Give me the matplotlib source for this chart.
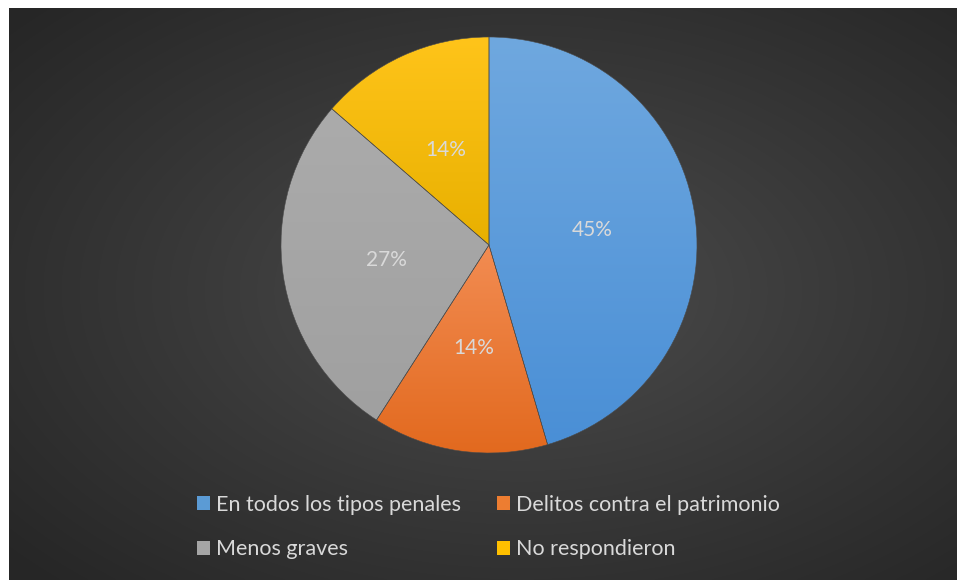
import numpy as np
import matplotlib
matplotlib.use("Agg")
import matplotlib.pyplot as plt
from matplotlib.patches import Patch
from matplotlib.colors import LinearSegmentedColormap, to_rgb

plt.rcParams['font.family'] = ['Lato', 'DejaVu Sans']

# Survey responses (counts per answer)
categories = ["En todos los tipos penales", "Delitos contra el patrimonio",
              "Menos graves", "No respondieron"]
counts = [10, 3, 6, 3]

# top / bottom shades of each slice's vertical gradient
top_colors = ["#6FA8DF", "#F28C52", "#ABABAB", "#FFC41A"]
bottom_colors = ["#4A8FD6", "#E2691E", "#A0A0A0", "#E8B000"]
legend_colors = ["#5B9BD5", "#ED7D31", "#A5A5A5", "#FFC000"]
text_color = "#D9D9D9"

W, H = 958, 580
fig = plt.figure(figsize=(W / 100, H / 100), dpi=100, facecolor="white")

# dark panel with a radial gradient
bg = fig.add_axes([9 / W, 0, (957 - 9) / W, (H - 8) / H])
bg.set_axis_off()
ny, nx = 286, 474
yy, xx = np.mgrid[0:ny, 0:nx]
cx, cy = (520 - 9) / 2, (290 - 8) / 2
d = np.hypot((xx - cx) / nx, (yy - cy) / ny) / 0.72
d = np.clip(d, 0, 1)
c0 = np.array(to_rgb("#4E4E4E"))
c1 = np.array(to_rgb("#262626"))
img = c0 + (c1 - c0) * d[..., None] ** 0.9
bg.imshow(img, aspect="auto", extent=[0, 1, 0, 1], origin="upper", interpolation="bilinear")
bg.set_xlim(0, 1)
bg.set_ylim(0, 1)

# pie
r_px = 208
pcx, pcy = 489, H - 245
ax = fig.add_axes([(pcx - r_px) / W, (pcy - r_px) / H, 2 * r_px / W, 2 * r_px / H])
ax.set_axis_off()
wedges, texts, autotexts = ax.pie(
    counts, startangle=90, counterclock=False, colors=legend_colors,
    autopct=lambda p: f"{p:.0f}%", pctdistance=0.5,
    wedgeprops=dict(edgecolor="#4a4a4a", linewidth=0.4),
    textprops=dict(color=text_color, fontsize=15),
)
ax.set_xlim(-1, 1)
ax.set_ylim(-1, 1)
ax.set_aspect("equal")

for w, ct, cb in zip(wedges, top_colors, bottom_colors):
    verts = w.get_path().vertices
    x0, x1 = verts[:, 0].min(), verts[:, 0].max()
    y0, y1 = verts[:, 1].min(), verts[:, 1].max()
    cmap = LinearSegmentedColormap.from_list("g", [cb, ct])
    grad = np.linspace(0, 1, 256)[:, None]
    im = ax.imshow(grad, cmap=cmap, extent=[x0, x1, y0, y1], origin="lower",
                   aspect="auto", zorder=w.get_zorder() + 0.1, interpolation="bilinear")
    im.set_clip_path(w)
    w.set_zorder(w.get_zorder() + 0.2)
    w.set_facecolor("none")
for t in autotexts:
    t.set_zorder(10)
ax.set_xlim(-1, 1)
ax.set_ylim(-1, 1)

# legend entries laid out row by row (matplotlib fills columns first)
order = [0, 2, 1, 3]
handles = [Patch(facecolor=legend_colors[i], edgecolor="none") for i in order]
labels = [categories[i] for i in order]
leg = fig.legend(handles, labels, ncol=2, loc="center left",
                 bbox_to_anchor=(178 / W, 1 - 527 / H), frameon=False,
                 fontsize=15.5, labelcolor=text_color,
                 handlelength=0.6, handleheight=0.6, handletextpad=0.25,
                 columnspacing=1.7, labelspacing=1.15)

fig.savefig("out.png", dpi=100, facecolor="white")
